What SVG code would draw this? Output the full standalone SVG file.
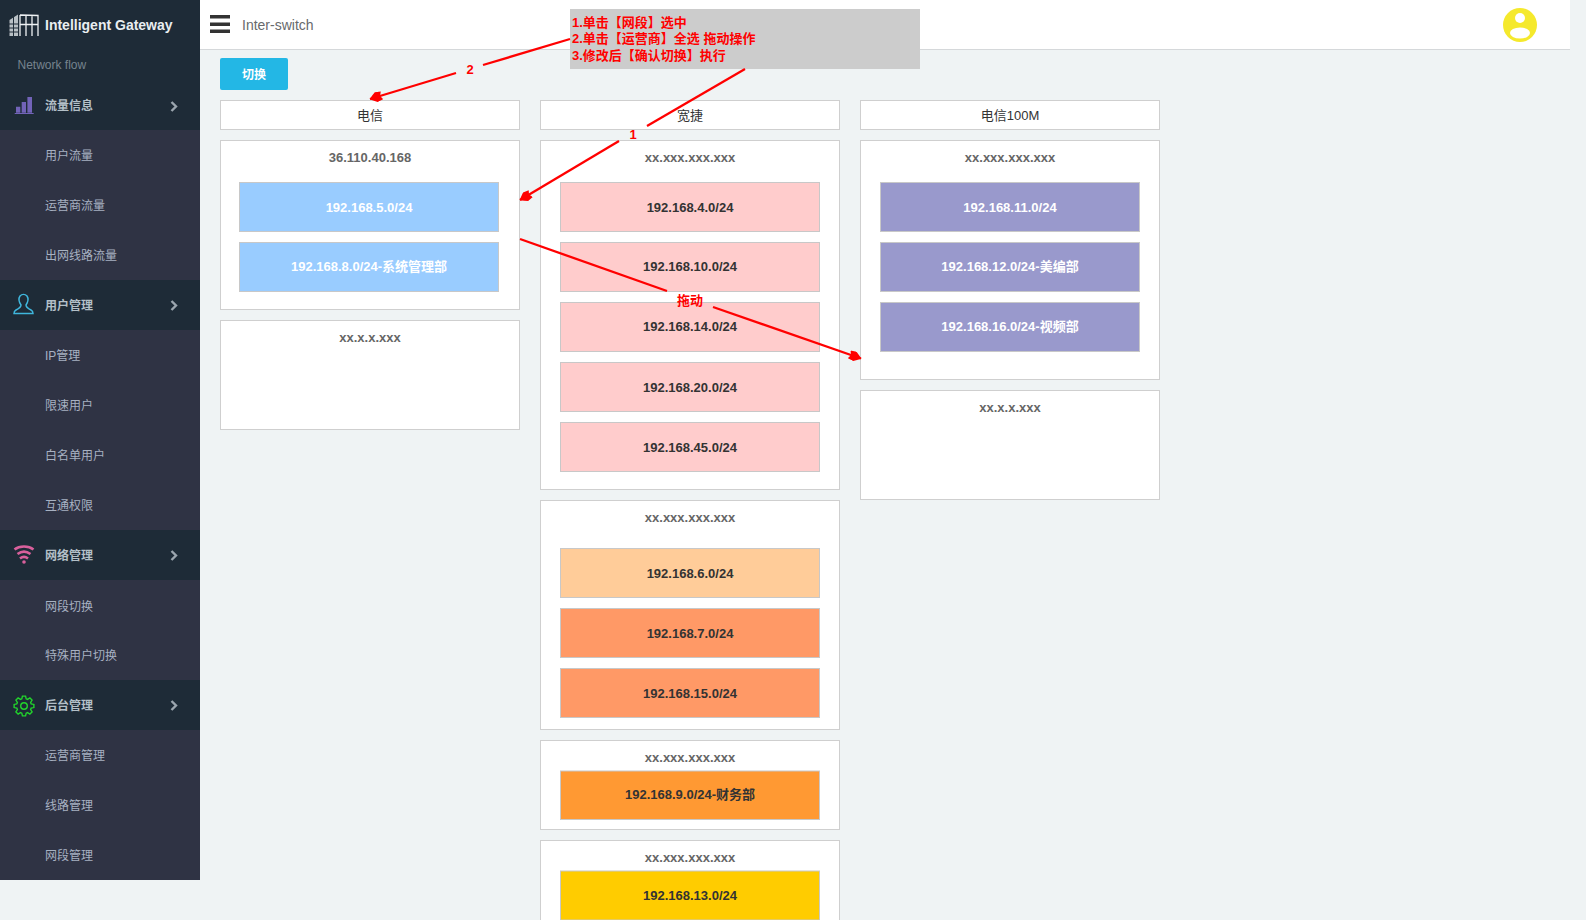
<svg xmlns="http://www.w3.org/2000/svg" width="1586" height="920" viewBox="0 0 1586 920">
<style>
text{font-family:"Liberation Sans","Noto Sans CJK SC",sans-serif}
.hd{fill:#1e2b37}.sub{fill:#2f3344}
.mh{font-size:12px;font-weight:bold;fill:#b4c0c8}
.mi{font-size:12px;fill:#a7b1c2}
.chev{fill:none;stroke:#9ba5ae;stroke-width:2.400}
.col{fill:#fff;stroke:#cfcfcf;stroke-width:1}
.colt{font-size:13px;fill:#333;text-anchor:middle}
.ip{font-size:13px;font-weight:bold;fill:#666;text-anchor:middle}
.n{stroke:#c8c8c8;stroke-width:1}
.nt{font-size:13px;font-weight:bold;fill:#333;text-anchor:middle}
.nw{font-size:13px;font-weight:bold;fill:#fff;text-anchor:middle}
.ann{font-size:13px;font-weight:bold;fill:#f00}
.lbl{font-size:13px;font-weight:bold;fill:#f00;text-anchor:middle}
.ln{stroke:#f00;stroke-width:2.300;fill:none}
</style>
<defs>
<marker id="ah" viewBox="0 0 13 10" refX="12.500" refY="5" markerWidth="13" markerHeight="10" markerUnits="userSpaceOnUse" orient="auto"><path d="M0 1L6 0Q9 2 13 5Q9 8 6 10L0 9L2 5Z" fill="#f00"/></marker>
</defs>
<rect width="1586" height="920" fill="#eff3f4"/>
<g id="topbar">
<rect x="200" width="1370" height="49.500" fill="#fff"/>
<rect x="200" y="49" width="1370" height="1" fill="#d5d8da"/>
<rect x="210" y="15" width="20" height="3.500" fill="#333"/>
<rect x="210" y="22.500" width="20" height="3.500" fill="#333"/>
<rect x="210" y="29.500" width="20" height="3.500" fill="#333"/>
<text x="242" y="30" font-size="14" fill="#676a6c">Inter-switch</text>
<circle cx="1520" cy="25" r="17" fill="#f5e92c"/>
<circle cx="1520" cy="18" r="5" fill="#fff"/>
<ellipse cx="1520" cy="33" rx="10" ry="5.500" fill="#fff"/>
</g>
<g id="sidebar">
<rect width="200" height="130" class="hd"/>
<rect y="130" width="200" height="150" class="sub"/>
<rect y="280" width="200" height="50" class="hd"/>
<rect y="330" width="200" height="200" class="sub"/>
<rect y="530" width="200" height="50" class="hd"/>
<rect y="580" width="200" height="100" class="sub"/>
<rect y="680" width="200" height="50" class="hd"/>
<rect y="730" width="200" height="150" class="sub"/>
<g id="logo">
<path d="M9.500 20L18 14.500V36H9.500Z" fill="#b9c0c5"/>
<path d="M9 24h9.500M9 28h9.500M9 32h9.500M13.500 17v19" stroke="#1e2b37" stroke-width="1" fill="none"/>
<path d="M20 15L38 15.500V36M20 24.500H38M26 15V36M32 15V36M20 15V36" stroke="#eef1f3" stroke-width="1.300" fill="none"/>
</g>
<text x="45" y="30" font-size="14" font-weight="bold" fill="#e9eef1">Intelligent Gateway</text>
<text x="17.500" y="69" font-size="12" fill="#76838e">Network flow</text>
<g id="m-flow"><path d="M16 106.700h4.300v6h-4.300zM21.700 102h4.300v10.700h-4.300zM27.400 97h4.600v15.700h-4.600z" fill="#7263b8"/><rect x="14.700" y="113" width="19" height="1" fill="#7263b8"/>
<text x="45" y="110" class="mh">流量信息</text><path class="chev" d="M171.500 102l4.500 4.500l-4.500 4.500"/></g>
<text x="45" y="160" class="mi">用户流量</text>
<text x="45" y="210" class="mi">运营商流量</text>
<text x="45" y="260" class="mi">出网线路流量</text>
<g id="m-user"><path d="M20 296c-2 3-1 6 1 9c0 2.500-2 3.500-5 5c-2 1-2 1.500-2 3.500h19c0-2 0-2.500-2-3.500c-3-1.500-5-2.500-5-5c2-3 3-6 1-9c-2-2-5-2-7 0z" fill="none" stroke="#3fb6dc" stroke-width="1.500"/>
<text x="45" y="310" class="mh">用户管理</text><path class="chev" d="M171.500 301l4.500 4.500l-4.500 4.500"/></g>
<text x="45" y="360" class="mi">IP管理</text>
<text x="45" y="410" class="mi">限速用户</text>
<text x="45" y="460" class="mi">白名单用户</text>
<text x="45" y="510" class="mi">互通权限</text>
<g id="m-net"><path d="M14.500 549.500c5-4 14-4 19 0M17.500 554c4-3 9-3 13 0M20 558.500c2.500-2 5.500-2 8 0" fill="none" stroke="#d9609c" stroke-width="2.600"/><circle cx="24" cy="562" r="1.800" fill="#d9609c"/>
<text x="45" y="560" class="mh">网络管理</text><path class="chev" d="M171.500 551l4.500 4.500l-4.500 4.500"/></g>
<text x="45" y="610.500" class="mi">网段切换</text>
<text x="45" y="660" class="mi">特殊用户切换</text>
<g id="m-admin"><g transform="translate(24 706)" fill="none" stroke="#22d32c" stroke-width="1.400"><circle r="3.300"/><path d="M-2.190-7.170L-1.560-9.880L1.560-9.880L2.190-7.170L3.520-6.620L5.880-8.090L8.090-5.880L6.620-3.520L7.170-2.190L9.880-1.560L9.880 1.560L7.170 2.190L6.620 3.520L8.090 5.880L5.880 8.090L3.520 6.620L2.190 7.170L1.560 9.880L-1.560 9.880L-2.190 7.170L-3.520 6.620L-5.880 8.090L-8.090 5.880L-6.620 3.520L-7.170 2.190L-9.880 1.560L-9.880-1.560L-7.170-2.190L-6.620-3.520L-8.090-5.880L-5.880-8.090L-3.520-6.620Z"/></g>
<text x="45" y="710" class="mh">后台管理</text><path class="chev" d="M171.500 701l4.500 4.500l-4.500 4.500"/></g>
<text x="45" y="760" class="mi">运营商管理</text>
<text x="45" y="810" class="mi">线路管理</text>
<text x="45" y="860" class="mi">网段管理</text>
</g>
<g id="btn-switch"><rect x="220" y="58" width="68" height="32" rx="2" fill="#23b7e5"/><text x="254" y="79" font-size="12" font-weight="bold" fill="#fff" text-anchor="middle">切换</text></g>
<g id="col1">
<rect class="col" x="220.500" y="100.500" width="299" height="29"/><text class="colt" x="370" y="119.500">电信</text>
<rect class="col" x="220.500" y="140.500" width="299" height="169"/><text class="ip" x="370" y="162">36.110.40.168</text>
<g id="n-5"><rect class="n" x="239.500" y="182.500" width="259" height="49" fill="#99ccff"/><text class="nw" x="369" y="212">192.168.5.0/24</text></g>
<g id="n-8"><rect class="n" x="239.500" y="242.500" width="259" height="49" fill="#99ccff"/><text class="nw" x="369" y="271">192.168.8.0/24-系统管理部</text></g>
<rect class="col" x="220.500" y="320.500" width="299" height="109"/><text class="ip" x="370" y="342">xx.x.x.xxx</text>
</g>
<g id="col2">
<rect class="col" x="540.500" y="100.500" width="299" height="29"/><text class="colt" x="690" y="119.500">宽捷</text>
<rect class="col" x="540.500" y="140.500" width="299" height="349"/><text class="ip" x="690" y="162">xx.xxx.xxx.xxx</text>
<g id="n-4"><rect class="n" x="560.500" y="182.500" width="259" height="49" fill="#ffcccc"/><text class="nt" x="690" y="212">192.168.4.0/24</text></g>
<g id="n-10"><rect class="n" x="560.500" y="242.500" width="259" height="49" fill="#ffcccc"/><text class="nt" x="690" y="271">192.168.10.0/24</text></g>
<g id="n-14"><rect class="n" x="560.500" y="302.500" width="259" height="49" fill="#ffcccc"/><text class="nt" x="690" y="331">192.168.14.0/24</text></g>
<g id="n-20"><rect class="n" x="560.500" y="362.500" width="259" height="49" fill="#ffcccc"/><text class="nt" x="690" y="392">192.168.20.0/24</text></g>
<g id="n-45"><rect class="n" x="560.500" y="422.500" width="259" height="49" fill="#ffcccc"/><text class="nt" x="690" y="452">192.168.45.0/24</text></g>
<rect class="col" x="540.500" y="500.500" width="299" height="229"/><text class="ip" x="690" y="522">xx.xxx.xxx.xxx</text>
<g id="n-6"><rect class="n" x="560.500" y="548.500" width="259" height="49" fill="#ffcc99"/><text class="nt" x="690" y="578">192.168.6.0/24</text></g>
<g id="n-7"><rect class="n" x="560.500" y="608.500" width="259" height="49" fill="#ff9966"/><text class="nt" x="690" y="638">192.168.7.0/24</text></g>
<g id="n-15"><rect class="n" x="560.500" y="668.500" width="259" height="49" fill="#ff9966"/><text class="nt" x="690" y="698">192.168.15.0/24</text></g>
<rect class="col" x="540.500" y="740.500" width="299" height="89"/><text class="ip" x="690" y="762">xx.xxx.xxx.xxx</text>
<g id="n-9"><rect class="n" x="560.500" y="771" width="259" height="48.500" fill="#ff9933"/><text class="nt" x="690" y="799">192.168.9.0/24-财务部</text></g>
<rect class="col" x="540.500" y="840.500" width="299" height="90"/><text class="ip" x="690" y="862">xx.xxx.xxx.xxx</text>
<g id="n-13"><rect class="n" x="560.500" y="871" width="259" height="49" fill="#ffcc00"/><text class="nt" x="690" y="900">192.168.13.0/24</text></g>
</g>
<g id="col3">
<rect class="col" x="860.500" y="100.500" width="299" height="29"/><text class="colt" x="1010" y="119.500">电信100M</text>
<rect class="col" x="860.500" y="140.500" width="299" height="239"/><text class="ip" x="1010" y="162">xx.xxx.xxx.xxx</text>
<g id="n-11"><rect class="n" x="880.500" y="182.500" width="259" height="49" fill="#9999cc"/><text class="nw" x="1010" y="212">192.168.11.0/24</text></g>
<g id="n-12"><rect class="n" x="880.500" y="242.500" width="259" height="49" fill="#9999cc"/><text class="nw" x="1010" y="271">192.168.12.0/24-美编部</text></g>
<g id="n-16"><rect class="n" x="880.500" y="302.500" width="259" height="49" fill="#9999cc"/><text class="nw" x="1010" y="331">192.168.16.0/24-视频部</text></g>
<rect class="col" x="860.500" y="390.500" width="299" height="109"/><text class="ip" x="1010" y="412">xx.x.x.xxx</text>
</g>
<g id="note">
<rect x="570" y="9" width="350" height="60" fill="#cccccc"/>
<text class="ann" x="572" y="26.500">1.单击【网段】选中</text>
<text class="ann" x="572" y="43">2.单击【运营商】全选 拖动操作</text>
<text class="ann" x="572" y="60">3.修改后【确认切换】执行</text>
</g>
<g id="connectors">
<path class="ln" d="M745 69L647 126"/>
<path class="ln" d="M619 141L520 200" marker-end="url(#ah)"/>
<text class="lbl" x="633" y="139">1</text>
<path class="ln" d="M570 39L483 65"/>
<path class="ln" d="M456 73L370 99" marker-end="url(#ah)"/>
<text class="lbl" x="470" y="74">2</text>
<path class="ln" d="M520 239L667 291"/>
<path class="ln" d="M713 307L861 358.500" marker-end="url(#ah)"/>
<text class="lbl" x="690" y="305">拖动</text>
</g>
</svg>
